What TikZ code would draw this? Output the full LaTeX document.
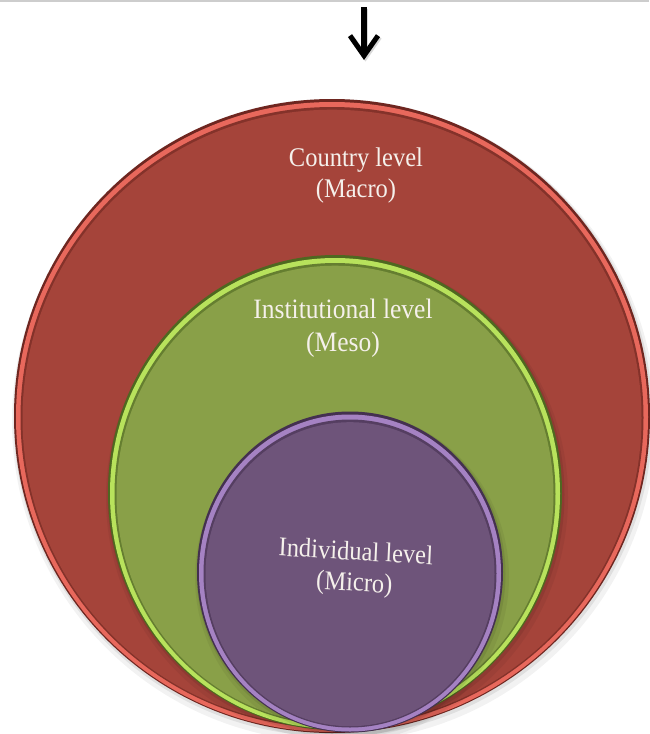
\documentclass[tikz,border=0pt]{standalone}
\usepackage{fontspec}
\setmainfont{Liberation Serif}
\usetikzlibrary{arrows.meta}
\definecolor{redfill}{RGB}{165,68,58}
\definecolor{redrim}{RGB}{232,104,92}
\definecolor{reddark}{RGB}{110,38,32}
\definecolor{greenfill}{RGB}{137,160,72}
\definecolor{greenrim}{RGB}{184,226,92}
\definecolor{greendark}{RGB}{78,104,32}
\definecolor{purplefill}{RGB}{110,84,122}
\definecolor{purplerim}{RGB}{165,130,195}
\definecolor{purpledark}{RGB}{68,48,80}
\definecolor{labeltext}{RGB}{245,240,235}
\definecolor{topline}{RGB}{205,205,205}
\newcommand{\levelring}[7]{%
  \fill[black,opacity=0.05] (#1+2,#2+5) ellipse [x radius=#3+4, y radius=#4+4];
  \fill[black,opacity=0.08] (#1+1,#2+2) ellipse [x radius=#3+1.5, y radius=#4+1.5];
  \fill[#7] (#1,#2) ellipse [x radius=#3, y radius=#4];
  \fill[#6] (#1,#2+1) ellipse [x radius=#3-2, y radius=#4-2];
  \fill[#7!60!#5] (#1,#2+1.5) ellipse [x radius=#3-6.5, y radius=#4-6.5];
  \fill[#5] (#1,#2+2.2) ellipse [x radius=#3-8.5, y radius=#4-8.5];
}
\tikzset{
  levellabel/.style={text=labeltext, align=center, inner sep=0pt, anchor=base,
    yscale=1.1, font=\fontsize{24.5}{28}\selectfont},
  downarrow/.style={line width=5.5pt, -{Straight Barb[length=20pt,width=28pt,line width=5pt]}}
}
\begin{document}
\begin{tikzpicture}[x=1pt,y=-1pt]
\useasboundingbox (0,0) rectangle (649,734);
\fill[white] (0,0) rectangle (649,734);
\fill[topline] (0,0) rectangle (649,2);
% arrow
\coordinate (arrowtop) at (364,7);
\coordinate (arrowtip) at (364,60);
\draw[downarrow, black!25, opacity=0.6] ([xshift=1.5pt,yshift=-1.5pt]arrowtop) -- ([xshift=1.5pt,yshift=-1.5pt]arrowtip);
\draw[downarrow] (arrowtop) -- (arrowtip);
% circles
\levelring{332}{416}{318}{317}{redfill}{redrim}{reddark}
\levelring{335}{492.5}{227}{237.5}{greenfill}{greenrim}{greendark}
\levelring{350}{572}{153}{160.5}{purplefill}{purplerim}{purpledark}
% labels (anchor = baseline of last line)
\node[levellabel] (macro) at (356,197) {Country level\\(Macro)};
\node[levellabel, font=\fontsize{25.5}{30}\selectfont] (meso) at (343,351) {Institutional level\\(Meso)};
\node[levellabel, rotate=-3] (micro) at (354,591) {Individual level\\(Micro)};
\end{tikzpicture}
\end{document}
